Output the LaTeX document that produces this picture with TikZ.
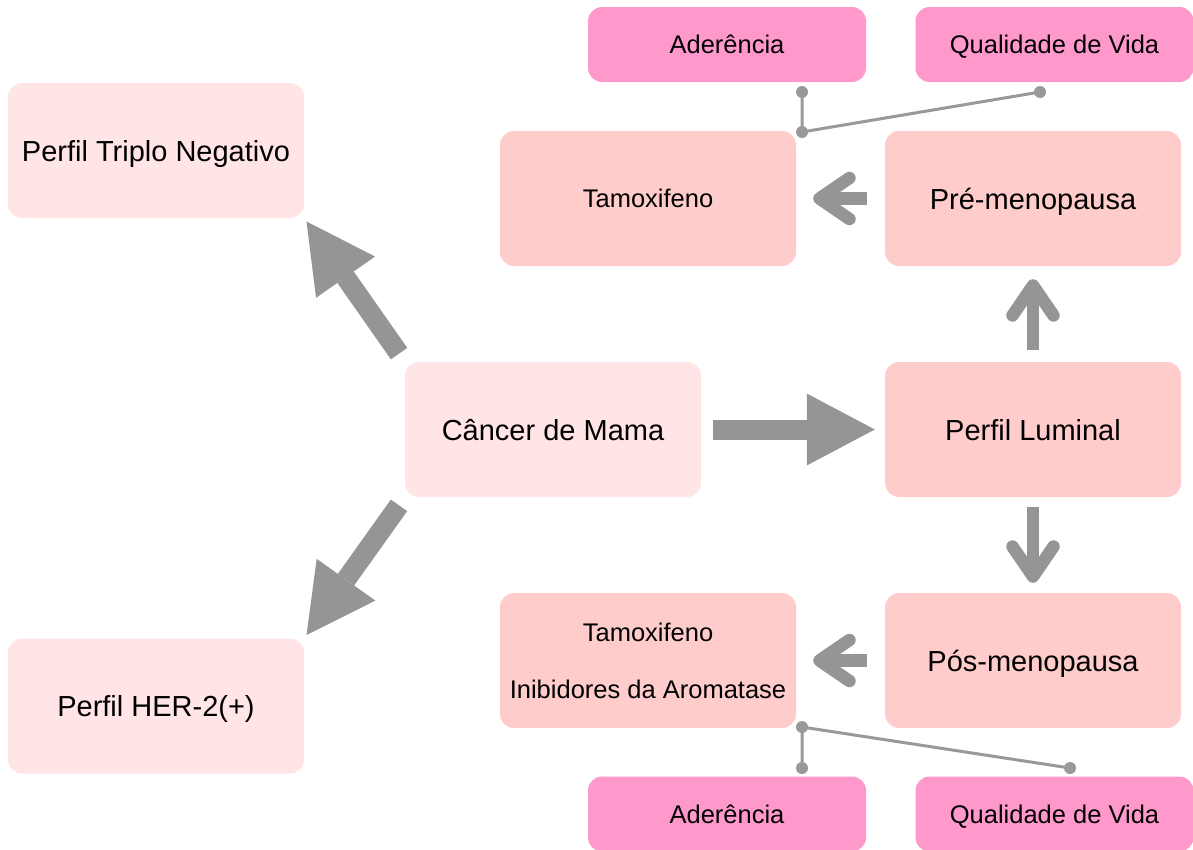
\documentclass[tikz,border=0pt]{standalone}
\usepackage{fontspec}
\setmainfont{Liberation Sans}
\usetikzlibrary{arrows.meta}
\definecolor{palepink}{HTML}{FFE5E5}
\definecolor{rosepink}{HTML}{FFCCCC}
\definecolor{hotpink}{HTML}{FF99CC}
\definecolor{arrowgray}{HTML}{959595}
\definecolor{linkgray}{HTML}{999999}

\begin{document}
\begin{tikzpicture}[x=1pt,y=-1pt,
  box/.style={rounded corners=14pt, minimum width=296pt, minimum height=135pt,
    align=center, text depth=0pt, font=\fontsize{29}{34}\selectfont},
  tag/.style={rounded corners=14pt, fill=hotpink, minimum width=278pt,
    minimum height=75pt, text depth=0pt, font=\fontsize{25.5}{30}\selectfont},
  bigarrow/.style={draw=arrowgray, line width=20pt,
    -{Triangle[length=68pt,width=72pt,line width=0pt]}},
  chevron/.style={draw=arrowgray, line width=12.5pt,
    -{Straight Barb[length=30pt,width=41pt,round]}},
  link/.style={draw=linkgray, line width=3pt}]
  \useasboundingbox (0,0) rectangle (1193,849);
  \clip (0,0) rectangle (1193,849);
  % main profiles
  \node[box, fill=palepink] (triplo) at (156,150.5) {Perfil Triplo Negativo};
  \node[box, fill=palepink] (her) at (156,706) {Perfil HER-2(+)};
  \node[box, fill=palepink] (cancer) at (553,429.5) {Câncer de Mama};
  \node[box, fill=rosepink] (luminal) at (1033,429.5) {Perfil Luminal};
  \node[box, fill=rosepink] (pre) at (1033,198.5) {Pré-menopausa};
  \node[box, fill=rosepink] (pos) at (1033,660.5) {Pós-menopausa};
  \node[box, fill=rosepink, font=\fontsize{25.5}{30}\selectfont] (tamA) at (648,198.5) {Tamoxifeno};
  \node[box, fill=rosepink, font=\fontsize{25.5}{57}\selectfont] (tamB) at (648,660.5)
    {Tamoxifeno\\Inibidores da Aromatase};
  % outcomes
  \node[tag] (adA) at (727,44.5) {Aderência};
  \node[tag] (qvA) at (1054.5,44.5) {Qualidade de Vida};
  \node[tag] (adB) at (727,814) {Aderência};
  \node[tag] (qvB) at (1054.5,814) {Qualidade de Vida};
  % arrows
  \draw[bigarrow, shorten <=10pt, shorten >=4pt] (cancer.north west) -- (triplo.south east);
  \draw[bigarrow, shorten <=10pt, shorten >=4pt] (cancer.south west) -- (her.north east);
  \draw[bigarrow, shorten <=12pt, shorten >=10pt] (cancer.east) -- (luminal.west);
  \draw[chevron, shorten <=12pt, shorten >=13pt] (luminal.north) -- (pre.south);
  \draw[chevron, shorten <=10pt, shorten >=10pt] (luminal.south) -- (pos.north);
  \draw[chevron, shorten <=18pt, shorten >=17pt] (pre.west) -- (tamA.east);
  \draw[chevron, shorten <=18pt, shorten >=17pt] (pos.west) -- (tamB.east);
  % links to outcomes
  \coordinate (hubA) at (802,132);
  \coordinate (endAa) at (802,92);
  \coordinate (endAq) at (1040,92);
  \coordinate (hubB) at (802,727);
  \coordinate (endBa) at (802,768);
  \coordinate (endBq) at (1070,768);
  \draw[link] (endAa) -- (hubA) -- (endAq);
  \draw[link] (endBa) -- (hubB) -- (endBq);
  \foreach \p in {hubA,endAa,endAq,hubB,endBa,endBq}
    \fill[linkgray] (\p) circle[radius=6pt];
\end{tikzpicture}
\end{document}
